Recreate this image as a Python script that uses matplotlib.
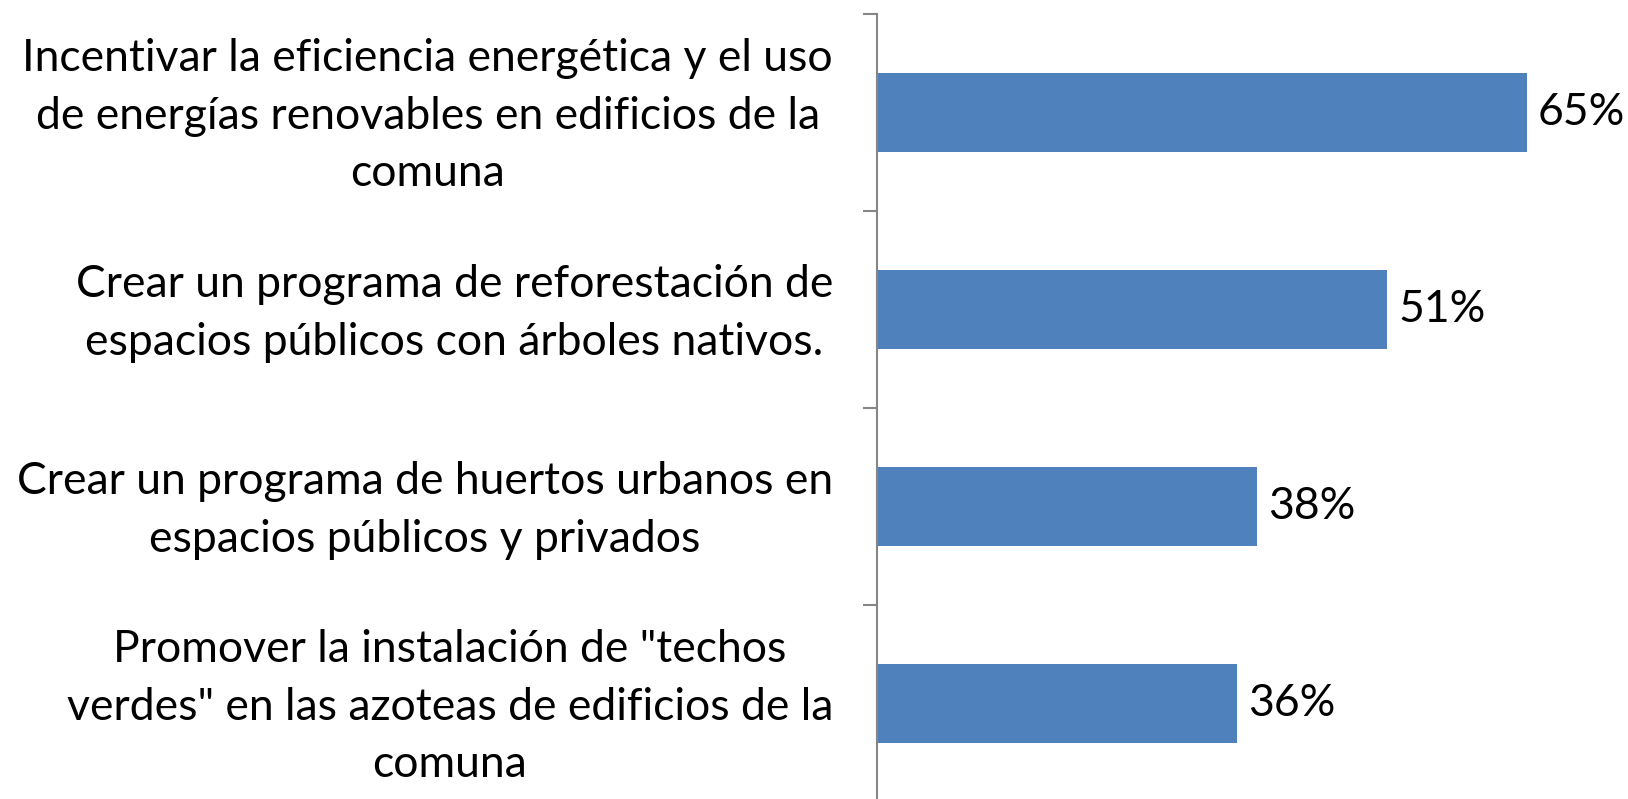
import matplotlib.pyplot as plt
from matplotlib.ticker import FixedLocator, NullLocator

# ---------------------------
# data
# ---------------------------

categories = [
    "Incentivar la eficiencia energética y el uso\nde energías renovables en edificios de la\ncomuna",
    "Crear un programa de reforestación de\nespacios públicos con árboles nativos.",
    "Crear un programa de huertos urbanos en\nespacios públicos y privados",
    "Promover la instalación de \"techos\nverdes\" en las azoteas de edificios de la\ncomuna",
]
values = [0.65, 0.51, 0.38, 0.36]
value_labels = ["65%", "51%", "38%", "36%"]

bar_color = "#4F81BD"
axis_color = "#868686"
font_size = 32

plt.rcParams["font.family"] = ["Lato", "DejaVu Sans"]

# ---------------------------
# figure
# ---------------------------

W, H = 1628, 799
fig = plt.figure(figsize=(W / 100, H / 100), dpi=100)

left = 877 / W
right = (877 + 700) / W
top = 1 - 14 / H
bottom = 1 - 802 / H
ax = fig.add_axes([left, bottom, right - left, top - bottom])

ypos = list(range(len(categories)))
ax.barh(ypos, values, height=0.4, color=bar_color, zorder=2)

ax.set_xlim(0, 0.70)
ax.set_ylim(len(categories) - 0.5, -0.5)

for y, v, lab in zip(ypos, values, value_labels):
    ax.text(v + 0.011, y, lab, va="center", ha="left", fontsize=font_size, color="black")

# category labels
for y, cat in zip(ypos, categories):
    ax.text(-0.063, y + 0.02, cat, ha="right", va="center", multialignment="center",
            fontsize=font_size, color="black", linespacing=1.5,
            transform=ax.get_yaxis_transform(), clip_on=False)

ax.yaxis.set_major_locator(FixedLocator([i - 0.5 for i in range(len(categories) + 1)]))
ax.set_yticklabels([])
ax.tick_params(axis="y", direction="out", length=10, width=1.5, color=axis_color)
ax.xaxis.set_major_locator(NullLocator())

for side in ["top", "right", "bottom"]:
    ax.spines[side].set_visible(False)
ax.spines["left"].set_color(axis_color)
ax.spines["left"].set_linewidth(1.5)

fig.savefig("out.png", dpi=100)
